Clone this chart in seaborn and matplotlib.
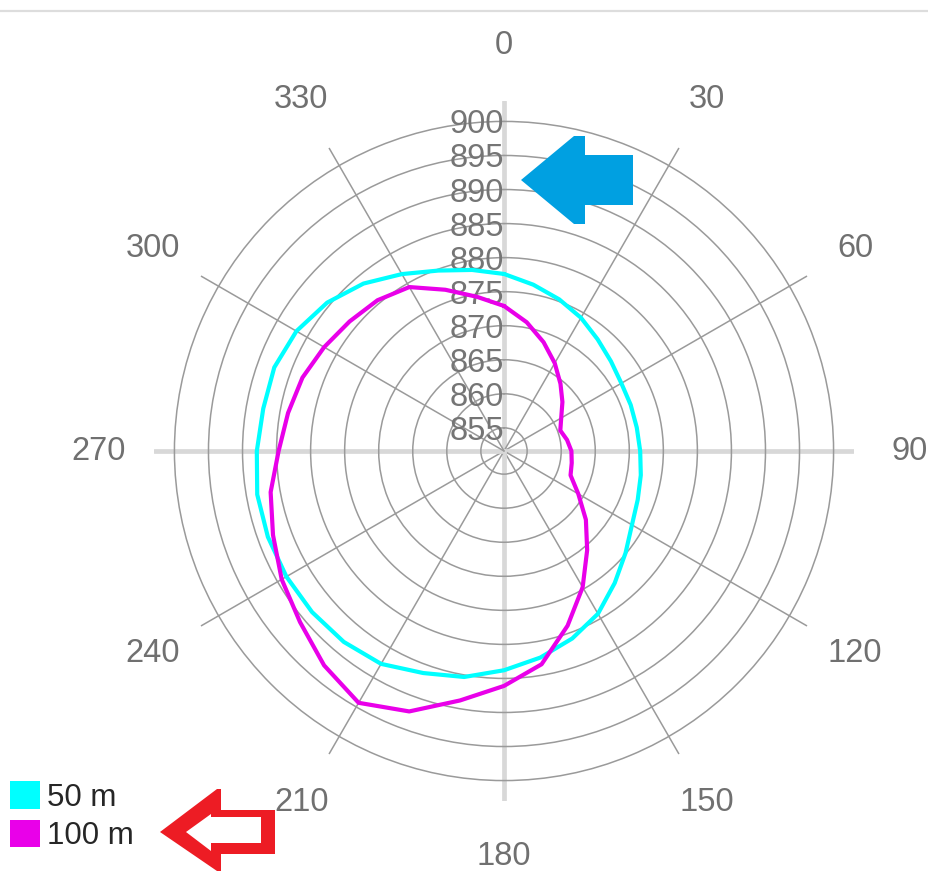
"""Polar plot of two distance series (50 m / 100 m) by bearing."""

import matplotlib

matplotlib.use("Agg")
import matplotlib.pyplot as plt
import numpy as np
import pandas as pd
import seaborn as sns
from matplotlib.lines import Line2D
from matplotlib.patches import Patch, Polygon

# bearings in degrees, clockwise from north
ANGLES = list(range(0, 360, 10))
VALUES_50M = [
    877.6, 876.4, 875.3, 874.2, 873.0, 872.1, 871.5, 871.4, 871.4, 871.6,
    872.0, 872.5, 873.3, 874.9, 876.9, 879.2, 880.9, 882.4, 883.8, 885.3,
    886.3, 887.7, 888.2, 888.4, 888.5, 888.5, 888.4, 887.9, 887.5, 887.5,
    886.8, 885.5, 883.7, 881.6, 879.8, 878.6,
]
VALUES_100M = [
    872.9, 870.8, 868.6, 866.5, 864.5, 862.8, 861.3, 860.4, 861.0, 861.5,
    861.7, 862.0, 864.2, 867.3, 870.6, 874.7, 878.9, 883.4, 886.1, 888.8,
    892.3, 894.3, 892.7, 890.7, 889.3, 887.7, 886.4, 884.7, 883.8, 883.1,
    882.1, 881.2, 880.5, 879.4, 876.8, 874.6,
]
SERIES = ["50 m", "100 m"]
COLORS = {"50 m": "#00ffff", "100 m": "#e900e9"}
THETA_TICKS = list(range(0, 360, 30))
R_TICKS = list(range(855, 901, 5))
R_LIMITS = (851.6, 903.0)

W, H = 929, 872


def closed_frame() -> pd.DataFrame:
    frames = []
    for name, values in zip(SERIES, [VALUES_50M, VALUES_100M]):
        ang = ANGLES + [ANGLES[0] + 360]
        val = values + [values[0]]
        frames.append(pd.DataFrame({"theta": np.deg2rad(ang), "value": val, "series": name}))
    return pd.concat(frames, ignore_index=True)


def main() -> None:
    sns.set_theme(style="white")
    plt.rcParams["font.family"] = ["Liberation Sans", "DejaVu Sans"]

    fig = plt.figure(figsize=(W / 100, H / 100), dpi=100)
    fig.patch.set_facecolor("white")

    cx, cy, rad = 504, 451, 350
    ax = fig.add_axes(
        [(cx - rad) / W, (H - cy - rad) / H, 2 * rad / W, 2 * rad / H],
        projection="polar",
    )
    ax.set_theta_zero_location("N")
    ax.set_theta_direction(-1)
    ax.set_facecolor("white")
    ax.spines["polar"].set_visible(False)

    df = closed_frame()
    sns.lineplot(
        data=df, x="theta", y="value", hue="series", palette=COLORS,
        sort=False, estimator=None, linewidth=3.0, legend=False, ax=ax, zorder=4,
    )

    ax.set_ylim(*R_LIMITS)
    ax.set_yticks(R_TICKS)
    ax.set_yticklabels([])
    ax.set_xlabel("")
    ax.set_ylabel("")
    ax.set_thetagrids(THETA_TICKS, labels=[str(t) for t in THETA_TICKS])
    ax.tick_params(axis="x", pad=27, labelsize=23.5, labelcolor="#707070")
    ax.grid(True, color="#9a9a9a", linewidth=1.1)

    for tick, ang in zip(ax.xaxis.get_major_ticks(), THETA_TICKS):
        if ang % 90 == 0:
            tick.gridline.set_color("#d8d8d8")
            tick.gridline.set_linewidth(3.4)

    for v in R_TICKS:
        ax.text(0, v, str(v), ha="right", va="center_baseline", fontsize=23.5,
                color="#757575", zorder=3)

    # thin rule along the top edge
    fig.add_artist(Line2D([0, 1], [1 - 11 / H, 1 - 11 / H], transform=fig.transFigure,
                          color="#dddddd", linewidth=1.6))

    # hand-drawn pointer arrows
    ov = fig.add_axes([0, 0, 1, 1], zorder=5)
    ov.set_xlim(0, W)
    ov.set_ylim(H, 0)
    ov.axis("off")
    ov.patch.set_alpha(0)
    blue = [(521, 180), (574, 136), (585, 136), (585, 155), (633, 155),
            (633, 205), (585, 205), (585, 224), (574, 224)]
    ov.add_patch(Polygon(blue, closed=True, facecolor="#00a0e1", edgecolor="none"))
    red_outer = [(160, 832), (217, 789), (221, 789), (221, 810), (275, 810),
                 (275, 854), (221, 854), (221, 871), (217, 871)]
    red_inner = [(186, 832), (211, 814), (211, 817), (261, 817), (261, 843),
                 (211, 843), (211, 851)]
    ov.add_patch(Polygon(red_outer, closed=True, facecolor="#ed1c24", edgecolor="none"))
    ov.add_patch(Polygon(red_inner, closed=True, facecolor="white", edgecolor="none"))

    handles = [Patch(facecolor=COLORS[s], edgecolor="none", label=s) for s in SERIES]
    fig.legend(
        handles=handles, loc="lower left", bbox_to_anchor=(10 / W, 21 / H),
        frameon=False, fontsize=22.5, handlelength=0.97, handleheight=0.97,
        handletextpad=0.2, labelspacing=0.22, borderpad=0, borderaxespad=0,
    )

    fig.savefig("out.png", dpi=100)
    plt.close(fig)


if __name__ == "__main__":
    main()
